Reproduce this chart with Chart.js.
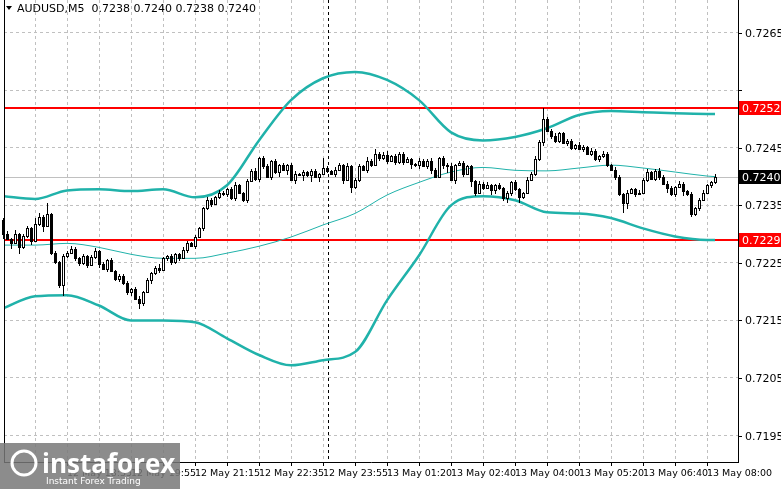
<!DOCTYPE html>
<html>
<head>
<meta charset="utf-8">
<script src="https://cdn.jsdelivr.net/npm/chart.js@4.4.1/dist/chart.umd.min.js"></script>
<style>
  html, body { margin: 0; padding: 0; background: #fff; }
  #wrap { position: relative; width: 781px; height: 489px; }
</style>
</head>
<body>
<div id="wrap"><canvas id="myChart" width="781" height="489"></canvas></div>
<script>
// candle closes, M5 bars from 12 May 17:15
const closes = [
  0.72300, 0.72292, 0.72285, 0.72300, 0.72278, 0.72296, 0.72310, 0.72288, 0.72318, 0.72330,
  0.72315, 0.72335, 0.72268, 0.72252, 0.72212, 0.72262, 0.72268, 0.72275, 0.72258, 0.72250,
  0.72262, 0.72246, 0.72260, 0.72270, 0.72248, 0.72240, 0.72255, 0.72236, 0.72222, 0.72228,
  0.72215, 0.72200, 0.72205, 0.72188, 0.72180, 0.72200, 0.72220, 0.72232, 0.72242, 0.72238,
  0.72258, 0.72262, 0.72252, 0.72265, 0.72258, 0.72272, 0.72285, 0.72280, 0.72295, 0.72310,
  0.72345, 0.72360, 0.72352, 0.72365, 0.72372, 0.72370, 0.72378, 0.72362, 0.72385, 0.72372,
  0.72360, 0.72392, 0.72410, 0.72396, 0.72432, 0.72418, 0.72400, 0.72427, 0.72408, 0.72420,
  0.72412, 0.72420, 0.72395, 0.72405, 0.72403, 0.72408, 0.72402, 0.72410, 0.72400, 0.72405,
  0.72415, 0.72410, 0.72405, 0.72412, 0.72420, 0.72395, 0.72418, 0.72382, 0.72395, 0.72418,
  0.72412, 0.72428, 0.72420, 0.72440, 0.72432, 0.72438, 0.72428, 0.72435, 0.72425, 0.72440,
  0.72425, 0.72430, 0.72422, 0.72420, 0.72428, 0.72418, 0.72428, 0.72412, 0.72400, 0.72432,
  0.72420, 0.72418, 0.72395, 0.72420, 0.72424, 0.72405, 0.72418, 0.72392, 0.72372, 0.72388,
  0.72380, 0.72385, 0.72376, 0.72385, 0.72380, 0.72362, 0.72372, 0.72390, 0.72378, 0.72365,
  0.72372, 0.72395, 0.72405, 0.72430, 0.72460, 0.72500, 0.72480, 0.72470, 0.72462, 0.72475,
  0.72458, 0.72462, 0.72450, 0.72455, 0.72448, 0.72452, 0.72440, 0.72445, 0.72430, 0.72435,
  0.72440, 0.72420, 0.72412, 0.72400, 0.72370, 0.72355, 0.72372, 0.72378, 0.72370, 0.72372,
  0.72395, 0.72408, 0.72396, 0.72410, 0.72400, 0.72388, 0.72380, 0.72370, 0.72382, 0.72388,
  0.72375, 0.72370, 0.72335, 0.72345, 0.72360, 0.72372, 0.72385, 0.72390, 0.72400
];
const firstOpen = 0.72325;
// wick lengths beyond the body, in 0.00001
const wickUp = [
  3, 6, 2, 8, 2, 4, 5, 2, 10, 6, 4, 20, 2, 3, 2, 4, 2, 5, 2, 3,
  4, 2, 3, 6, 2, 3, 2, 4, 2, 3, 2, 4, 2, 3, 5, 2, 4, 3, 2, 6,
  3, 2, 4, 3, 2, 5, 3, 2, 4, 3, 2, 4, 3, 2, 5, 3, 2, 4, 6, 3,
  2, 4, 3, 5, 2, 3, 4, 2, 3, 2, 4, 2, 3, 5, 2, 3, 2, 4, 3, 2,
  18, 3, 2, 4, 3, 2, 5, 3, 2, 4, 3, 6, 2, 8, 3, 4, 6, 2, 5, 3,
  2, 4, 3, 2, 5, 3, 2, 4, 3, 2, 4, 3, 5, 2, 3, 4, 2, 3, 2, 4,
  3, 5, 2, 3, 4, 2, 3, 2, 4, 3, 2, 5, 3, 6, 4, 20, 3, 2, 5, 3,
  2, 4, 3, 2, 5, 3, 2, 4, 3, 2, 4, 3, 2, 5, 3, 2, 4, 3, 2, 4,
  3, 6, 2, 3, 5, 2, 4, 3, 2, 5, 3, 2, 4, 3, 2, 4, 3, 2, 4
];
const wickDn = [
  8, 3, 10, 2, 12, 4, 3, 6, 2, 3, 12, 2, 4, 3, 6, 20, 3, 2, 4, 6,
  3, 5, 2, 4, 6, 3, 5, 2, 4, 6, 3, 5, 8, 3, 10, 4, 2, 6, 3, 5,
  2, 4, 6, 3, 5, 2, 4, 3, 6, 2, 4, 3, 5, 2, 4, 3, 6, 2, 5, 3,
  4, 6, 2, 3, 5, 4, 2, 6, 3, 8, 2, 10, 3, 8, 2, 10, 3, 12, 2, 10,
  3, 4, 2, 6, 3, 8, 2, 10, 3, 4, 2, 6, 3, 2, 4, 3, 6, 2, 5, 3,
  4, 2, 8, 3, 6, 2, 4, 8, 3, 2, 6, 12, 3, 8, 2, 6, 3, 10, 6, 3,
  4, 2, 8, 6, 3, 4, 8, 5, 3, 10, 4, 3, 2, 4, 3, 6, 2, 5, 3, 4,
  2, 5, 3, 4, 2, 6, 3, 4, 2, 5, 3, 4, 2, 6, 3, 18, 12, 3, 6, 2,
  3, 4, 2, 3, 6, 3, 8, 3, 5, 2, 8, 3, 6, 3, 4, 3, 2, 4, 3
];

// Bollinger bands sampled every 8 bars
const bandBars = [0, 8, 16, 24, 32, 40, 48, 56, 64, 72, 80, 88, 96, 104, 112, 120, 128, 136, 144, 152, 160, 168, 176, 178];
const bandUpper = [0.72366, 0.72361, 0.72376, 0.72378, 0.72375, 0.72378, 0.72364, 0.72385, 0.72463, 0.72533, 0.72571, 0.72582,
                   0.72568, 0.72533, 0.72477, 0.72463, 0.72469, 0.72484, 0.72507, 0.72514, 0.72512, 0.72510, 0.72509, 0.72509];
const bandMiddle = [0.72281, 0.72281, 0.72284, 0.72277, 0.72265, 0.72258, 0.72258, 0.72267, 0.72279, 0.72295, 0.72316, 0.72336,
                    0.72368, 0.72390, 0.72408, 0.72416, 0.72411, 0.72410, 0.72415, 0.72420, 0.72415, 0.72408, 0.72401, 0.72400];
const bandLower = [0.72171, 0.72192, 0.72194, 0.72176, 0.72150, 0.72150, 0.72147, 0.72119, 0.72090, 0.72072, 0.72081, 0.72095,
                   0.72185, 0.72263, 0.72350, 0.72366, 0.72359, 0.72338, 0.72336, 0.72328, 0.72310, 0.72296, 0.72290, 0.72290];

const timeLabels = ['12 May 17:15', '12 May 18:35', '12 May 19:55', '12 May 21:15', '12 May 22:35', '12 May 23:55',
                    '13 May 01:20', '13 May 02:40', '13 May 04:00', '13 May 05:20', '13 May 06:40', '13 May 08:00'];
const priceTicks = [0.7195, 0.7205, 0.7215, 0.7225, 0.7235, 0.7245, 0.7255, 0.7265];
const priceLabels = [0.7195, 0.7205, 0.7215, 0.7225, 0.7235, 0.7245, 0.7265];
const levels = [0.7252, 0.7229];
const lastPrice = 0.7240;
const daySplit = 81.25;

function pts(arr) { return bandBars.map((b, i) => ({x: b, y: arr[i]})); }

const candlePlugin = {
  id: 'candles',
  beforeDatasetsDraw(chart) {
    const {ctx, chartArea: a, scales: {x, y}} = chart;
    ctx.save();
    ctx.beginPath(); ctx.rect(a.left, a.top, a.right - a.left, a.bottom - a.top); ctx.clip();
    ctx.strokeStyle = '#000'; ctx.setLineDash([3, 3]); ctx.lineWidth = 1;
    let sx = Math.round(x.getPixelForValue(daySplit)) + 0.5;
    ctx.beginPath(); ctx.moveTo(sx, a.top); ctx.lineTo(sx, a.bottom); ctx.stroke();
    ctx.setLineDash([]);
    let ly = Math.round(y.getPixelForValue(lastPrice)) + 0.5;
    ctx.strokeStyle = '#c0c0c0';
    ctx.beginPath(); ctx.moveTo(a.left, ly); ctx.lineTo(a.right, ly); ctx.stroke();
    ctx.strokeStyle = '#ff0000'; ctx.lineWidth = 2;
    levels.forEach(l => {
      let py = Math.round(y.getPixelForValue(l));
      ctx.beginPath(); ctx.moveTo(a.left, py); ctx.lineTo(a.right, py); ctx.stroke();
    });
    ctx.restore();
  },
  afterDatasetsDraw(chart) {
    const {ctx, chartArea: a, scales: {x, y}} = chart;
    ctx.save();
    ctx.lineWidth = 1; ctx.strokeStyle = '#000';
    ctx.beginPath();
    ctx.moveTo(a.left + 0.5, a.top); ctx.lineTo(a.left + 0.5, a.bottom);
    ctx.moveTo(a.right + 0.5, a.top); ctx.lineTo(a.right + 0.5, a.bottom);
    ctx.stroke();
    let prev = firstOpen;
    closes.forEach((c, i) => {
      const o = prev; prev = c;
      const hi = Math.max(o, c) + wickUp[i] * 0.00001;
      const lo = Math.min(o, c) - wickDn[i] * 0.00001;
      const px = Math.round(x.getPixelForValue(i)) + 0.5;
      ctx.beginPath();
      ctx.moveTo(px, Math.round(y.getPixelForValue(hi)));
      ctx.lineTo(px, Math.round(y.getPixelForValue(lo)));
      ctx.stroke();
      const t = Math.round(y.getPixelForValue(Math.max(o, c))) + 0.5;
      const b = Math.round(y.getPixelForValue(Math.min(o, c))) + 0.5;
      if (c >= o) {
        ctx.fillStyle = '#fff';
        ctx.fillRect(px - 1, t, 2, b - t);
        ctx.strokeRect(px - 1, t, 2, b - t);
      } else {
        ctx.fillStyle = '#000';
        ctx.fillRect(px - 1.5, t - 0.5, 3, b - t + 1);
      }
    });
    ctx.font = '11px "DejaVu Sans"';
    ctx.textBaseline = 'middle';
    ctx.fillStyle = '#000';
    priceTicks.forEach(p => {
      const py = Math.round(y.getPixelForValue(p));
      ctx.fillRect(a.right, py, 4, 1);
    });
    priceLabels.forEach(p => {
      const py = Math.round(y.getPixelForValue(p));
      ctx.fillText(p.toFixed(4), a.right + 7, py + 1);
    });
    function tag(v, bg) {
      const py = Math.round(y.getPixelForValue(v));
      ctx.fillStyle = bg;
      ctx.fillRect(a.right + 1, py - 7, 42, 14);
      ctx.fillStyle = '#fff';
      ctx.fillText(v.toFixed(4), a.right + 4, py + 1);
    }
    levels.forEach(l => tag(l, '#ff0000'));
    tag(lastPrice, '#000');
    ctx.fillStyle = '#000';
    ctx.beginPath(); ctx.moveTo(6, 6); ctx.lineTo(12, 6); ctx.lineTo(9, 10); ctx.fill();
    ctx.fillText('AUDUSD,M5  0.7238 0.7240 0.7238 0.7240', 17, 9);
    // logo
    ctx.fillStyle = 'rgba(120,120,120,0.85)';
    ctx.fillRect(0, 443, 180, 46);
    ctx.fillStyle = '#fff';
    ctx.beginPath(); ctx.arc(24, 463, 12, 0, Math.PI * 2); ctx.lineWidth = 3; ctx.strokeStyle = '#fff'; ctx.stroke();
    ctx.font = 'bold 26px "Open Sans"';
    ctx.textBaseline = 'alphabetic';
    ctx.fillText('instaforex', 42, 473);
    ctx.font = '9px "DejaVu Sans"';
    ctx.fillText('Instant Forex Trading', 46, 484);
    ctx.restore();
  }
};

const ctx = document.getElementById('myChart').getContext('2d');
const chart = new Chart(ctx, {
  type: 'line',
  data: {
    datasets: [
      { data: pts(bandUpper), borderColor: '#20b2aa', borderWidth: 2.5 },
      { data: pts(bandMiddle), borderColor: '#20b2aa', borderWidth: 1 },
      { data: pts(bandLower), borderColor: '#20b2aa', borderWidth: 2.5 }
    ]
  },
  options: {
    responsive: false,
    animation: false,
    layout: { padding: { left: 4, top: 0, right: 0, bottom: 0 } },
    elements: { point: { radius: 0 }, line: { tension: 0.4, cubicInterpolationMode: 'monotone' } },
    plugins: { legend: { display: false }, tooltip: { enabled: false } },
    scales: {
      x: {
        type: 'linear', min: 0.25, max: 183.75,
        afterBuildTicks(s) {
          const t = [];
          for (let v = 8; v < 184; v += 8) t.push({ value: v });
          s.ticks = t;
        },
        afterFit(s) { s.height = 27; },
        grid: { color: '#c0c0c0', tickLength: 4, tickColor: '#000', tickBorderDash: [] },
        border: { display: true, color: '#000', dash: [3, 3] },
        ticks: {
          autoSkip: false, maxRotation: 0, align: 'start', color: '#000', padding: 2,
          font: { family: 'DejaVu Sans', size: 9.5 },
          callback: v => (v % 16 === 0 ? timeLabels[v / 16] : '')
        }
      },
      y: {
        position: 'right', min: 0.71904, max: 0.72707,
        afterBuildTicks(s) { s.ticks = priceTicks.map(v => ({ value: v })); },
        afterFit(s) { s.width = 43; },
        grid: { color: '#c0c0c0', drawTicks: false },
        border: { display: false, dash: [3, 3] },
        ticks: { display: false }
      }
    }
  },
  plugins: [candlePlugin]
});
</script>
</body>
</html>
